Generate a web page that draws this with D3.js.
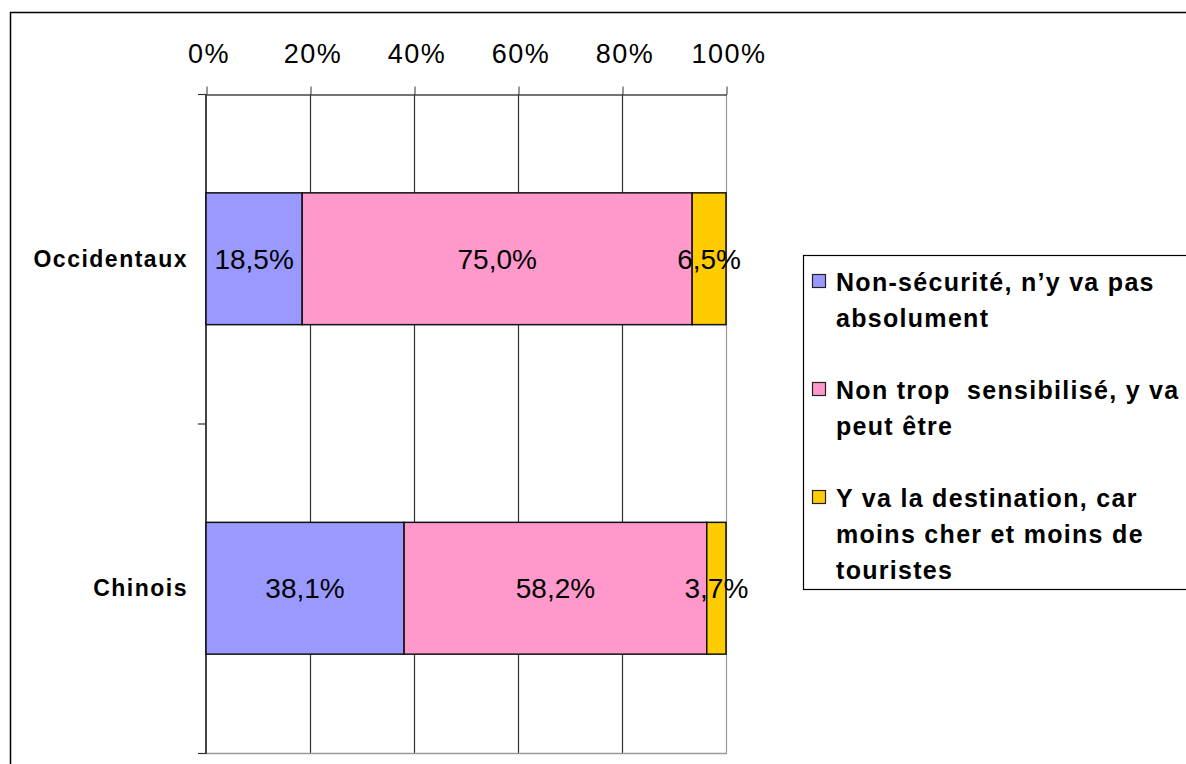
<!DOCTYPE html>
<html>
<head>
<meta charset="utf-8">
<script src="https://cdn.jsdelivr.net/npm/d3@7"></script>
<style>
  body { margin: 0; background: #fff; }
  svg { display: block; font-family: "Liberation Sans", Arial, sans-serif; }
</style>
</head>
<body>
<svg width="1186" height="764"></svg>
<script>
// data
const categories = ['Occidentaux', 'Chinois']
const seriesNames = [
  ['Non-sécurité, n’y va pas', 'absolument'],
  ['Non trop  sensibilisé, y va', 'peut être'],
  ['Y va la destination, car', 'moins cher et moins de', 'touristes']
]
const securite = [18.5, 38.1]
const sensibilise = [75.0, 58.2]
const destination = [6.5, 3.7]
const tickValues = [0, 20, 40, 60, 80, 100]
const colors = ['#9999ff', '#ff99cc', '#ffcc00']

const svg = d3.select('svg')

// outer frame
svg.append('rect')
  .attr('x', 10.5).attr('y', 12.5)
  .attr('width', 1200).attr('height', 800)
  .attr('fill', 'none').attr('stroke', '#000').attr('stroke-width', 1.5)

const x = d3.scaleLinear().domain([0, 100]).range([206, 726])
const y = d3.scaleBand().domain(categories).range([94, 753])
  .paddingInner(0.6).paddingOuter(0.3)

// gridlines
svg.append('g')
  .selectAll('line')
  .data(tickValues.slice(1))
  .enter().append('line')
    .attr('x1', d => x(d) + 0.5).attr('x2', d => x(d) + 0.5)
    .attr('y1', 94).attr('y2', 753)
    .attr('stroke', d => d === 100 ? '#999' : '#333')
    .attr('stroke-width', 1.2)

svg.append('line')
  .attr('x1', 206).attr('x2', 727)
  .attr('y1', 753.5).attr('y2', 753.5)
  .attr('stroke', '#999').attr('stroke-width', 1.5)

// top axis
const xAxis = svg.append('g')
  .attr('transform', 'translate(0.5,94.5)')
  .call(d3.axisTop(x).tickValues(tickValues).tickSize(8).tickPadding(24)
    .tickFormat(d => d + '%').tickSizeOuter(0))
xAxis.select('.domain').attr('stroke', '#444').attr('stroke-width', 1.5)
xAxis.selectAll('.tick line').attr('stroke', '#333')
xAxis.selectAll('.tick text')
  .attr('font-size', 27).attr('font-family', '"Liberation Sans", Arial, sans-serif')
  .attr('letter-spacing', 1.5)
  .attr('dx', 2)
  .attr('fill', '#000').attr('dy', 0)

// left axis: line + ticks at band boundaries
const yBounds = [94, 94 + y.step(), 753]
svg.append('line')
  .attr('x1', 206).attr('x2', 206)
  .attr('y1', 94).attr('y2', 754)
  .attr('stroke', '#444').attr('stroke-width', 2)
svg.append('g')
  .selectAll('line')
  .data(yBounds)
  .enter().append('line')
    .attr('x1', 198).attr('x2', 206)
    .attr('y1', d => d + 0.5).attr('y2', d => d + 0.5)
    .attr('stroke', '#333').attr('stroke-width', 1.2)

// category labels
svg.append('g')
  .selectAll('text')
  .data(categories)
  .enter().append('text')
    .attr('x', 188)
    .attr('y', d => y(d) + y.bandwidth() / 2)
    .attr('dy', '0.35em')
    .attr('text-anchor', 'end')
    .attr('font-size', 23).attr('font-weight', 'bold')
    .attr('letter-spacing', 1.5)
    .text(d => d)

// stacked bars
const rows = categories.map((c, i) => ({
  name: c, s0: securite[i], s1: sensibilise[i], s2: destination[i]
}))
const stack = d3.stack().keys(['s0', 's1', 's2'])
const series = stack(rows)

const layers = svg.append('g')
  .selectAll('g')
  .data(series)
  .enter().append('g')
    .attr('fill', (d, i) => colors[i])

layers.selectAll('rect')
  .data(d => d)
  .enter().append('rect')
    .attr('x', d => x(d[0]))
    .attr('y', d => y(d.data.name))
    .attr('width', d => x(d[1]) - x(d[0]))
    .attr('height', y.bandwidth())
    .attr('stroke', '#111').attr('stroke-width', 1.5)

layers.selectAll('text')
  .data(d => d.map(p => ({ p, key: d.key })))
  .enter().append('text')
    .attr('x', d => (x(d.p[0]) + x(d.p[1])) / 2)
    .attr('y', d => y(d.p.data.name) + y.bandwidth() / 2)
    .attr('dy', '0.35em')
    .attr('text-anchor', 'middle')
    .attr('font-size', 28)
    .attr('fill', '#000')
    .text(d => d3.format('.1f')(d.p.data[d.key]).replace('.', ',') + '%')

// legend
const legend = svg.append('g')
legend.append('rect')
  .attr('x', 803.5).attr('y', 255.5)
  .attr('width', 400).attr('height', 334)
  .attr('fill', '#fff').attr('stroke', '#000').attr('stroke-width', 1.2)

const lineH = 36
let ly = 282
seriesNames.forEach((lines, i) => {
  const item = legend.append('g')
  item.append('rect')
    .attr('x', 812.5).attr('y', ly - 7.5)
    .attr('width', 13).attr('height', 13)
    .attr('fill', colors[i]).attr('stroke', '#222').attr('stroke-width', 1.2)
  item.append('text')
    .attr('font-size', 25).attr('font-weight', 'bold')
    .attr('letter-spacing', 1.3)
    .attr('xml:space', 'preserve')
    .style('white-space', 'pre')
    .selectAll('tspan')
    .data(lines)
    .enter().append('tspan')
      .attr('x', 836)
      .attr('y', (d, j) => ly + j * lineH)
      .attr('dy', '0.35em')
      .text(d => d)
  ly += lines.length * lineH + 36
})
</script>
</body>
</html>
